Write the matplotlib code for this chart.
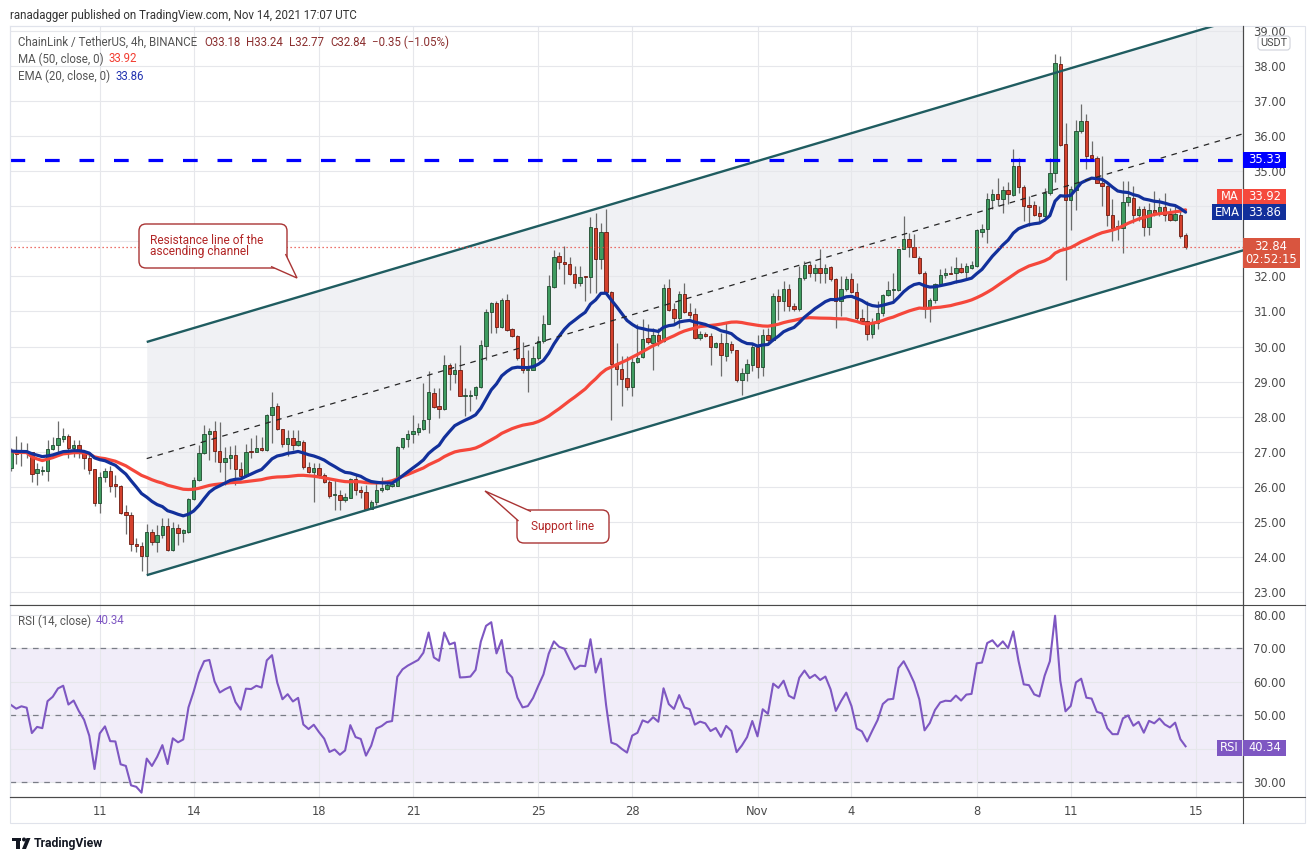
import matplotlib
matplotlib.use("Agg")
import matplotlib.pyplot as plt
import numpy as np
import pandas as pd
from matplotlib.patches import Rectangle, FancyBboxPatch, Polygon, Circle
from matplotlib.transforms import Affine2D
from matplotlib.lines import Line2D

# ---------------- data ----------------
start_time = "2021-10-08 04:00"   # first 4h candle shown

opens = [
    26.53, 27.03, 26.95, 27.00, 26.98, 26.40, 26.45, 26.46, 27.08, 27.18,
    27.37, 27.46, 27.11, 27.18, 27.00, 26.83, 26.50, 25.55, 26.29, 26.46,
    26.07, 26.03, 25.27, 25.20, 24.38, 24.32, 24.03, 24.72, 24.43, 24.63,
    24.89, 24.20, 24.83, 24.69, 24.71, 25.65, 26.20, 26.95, 27.52, 27.58,
    27.03, 26.71, 26.81, 26.92, 26.52, 26.31, 27.01, 27.00, 27.10, 27.05,
    28.05, 28.31, 27.64, 27.21, 27.38, 27.19, 27.29, 26.57, 26.43, 26.55,
    26.33, 26.14, 25.76, 25.78, 25.62, 25.68, 26.21, 25.90, 25.85, 25.38,
    25.57, 25.90, 25.95, 26.03, 26.03, 27.14, 27.36, 27.50, 27.57, 27.65,
    27.93, 28.68, 28.30, 28.22, 29.46, 29.23, 29.32, 28.60, 28.58, 28.63,
    28.85, 30.01, 30.98, 31.25, 30.55, 31.34, 30.49, 30.30, 29.68, 29.32,
    29.34, 29.66, 30.15, 30.65, 31.70, 32.58, 32.42, 32.36, 32.08, 31.82,
    32.00, 31.99, 33.39, 32.49, 33.28, 31.55, 29.49, 29.36, 29.10, 28.85,
    29.55, 29.70, 30.25, 30.10, 30.34, 30.15, 31.68, 31.06, 30.82, 31.49,
    30.99, 30.93, 30.25, 30.37, 30.31, 29.99, 30.09, 29.72, 30.08, 29.90,
    29.06, 29.25, 29.47, 29.98, 29.42, 30.34, 30.20, 31.44, 31.30, 31.65,
    31.17, 31.06, 31.96, 32.32, 32.10, 32.25, 32.11, 32.27, 31.92, 31.30,
    31.63, 31.93, 31.56, 30.82, 30.72, 30.36, 30.66, 30.96, 31.46, 31.60,
    31.61, 32.77, 33.08, 32.84, 32.53, 32.11, 31.11, 31.34, 31.77, 32.03,
    32.11, 32.09, 32.25, 32.13, 32.25, 32.30, 33.27, 33.35, 34.18, 34.34,
    34.22, 34.46, 34.33, 35.14, 34.55, 34.03, 34.03, 33.81, 33.71, 34.38,
    34.95, 38.07, 35.78, 34.17, 34.47, 36.14, 36.43, 35.45, 35.38, 34.66,
    34.57, 33.74, 33.43, 33.38, 34.12, 34.24, 33.76, 33.93, 33.41, 33.90,
    33.79, 33.98, 33.78, 33.62, 33.76, 33.18,
]
highs = [
    27.10, 27.46, 27.29, 27.24, 27.00, 26.67, 26.60, 27.34, 27.43, 27.89,
    27.67, 27.50, 27.34, 27.33, 27.05, 26.91, 26.50, 26.43, 26.55, 26.58,
    26.34, 26.05, 25.48, 25.29, 24.53, 24.43, 24.93, 24.81, 24.91, 25.12,
    25.12, 25.00, 24.95, 24.81, 25.67, 26.29, 27.20, 27.77, 27.67, 27.88,
    27.86, 27.14, 27.17, 27.19, 26.71, 27.21, 27.38, 27.48, 27.43, 28.07,
    28.71, 28.38, 27.66, 27.62, 27.62, 27.62, 27.33, 26.71, 26.67, 26.67,
    26.38, 26.19, 26.19, 25.90, 25.81, 26.24, 26.33, 26.02, 26.05, 25.62,
    26.14, 26.29, 26.14, 26.14, 27.17, 27.40, 27.62, 28.05, 27.81, 28.96,
    29.30, 28.82, 28.82, 29.77, 29.53, 29.53, 30.03, 28.82, 28.77, 28.87,
    30.18, 31.06, 31.27, 31.30, 31.39, 31.50, 30.53, 30.34, 30.12, 29.91,
    30.01, 30.31, 30.89, 32.03, 32.75, 32.70, 32.87, 32.56, 32.30, 32.30,
    32.02, 33.68, 33.80, 33.53, 33.91, 31.57, 30.10, 29.72, 29.72, 29.72,
    30.63, 30.79, 30.63, 30.53, 30.53, 31.77, 31.93, 31.25, 31.58, 31.82,
    31.25, 31.10, 30.44, 30.41, 30.39, 30.12, 30.39, 30.68, 30.15, 29.91,
    29.39, 29.65, 30.08, 30.34, 30.49, 30.53, 31.53, 31.63, 31.87, 31.77,
    31.25, 32.30, 32.44, 32.44, 32.34, 32.77, 32.34, 32.30, 31.96, 32.01,
    32.01, 32.09, 31.82, 31.06, 31.30, 30.82, 31.30, 31.49, 31.87, 32.11,
    32.79, 33.73, 33.25, 33.20, 32.58, 32.15, 31.39, 31.82, 32.20, 32.25,
    32.30, 32.56, 32.39, 32.39, 32.44, 33.35, 33.49, 34.39, 34.49, 34.82,
    34.58, 34.68, 35.62, 35.38, 34.62, 34.28, 34.14, 34.00, 34.52, 35.38,
    38.33, 38.28, 36.38, 34.59, 36.47, 36.93, 36.62, 35.86, 35.43, 35.43,
    34.62, 34.21, 33.62, 34.71, 34.71, 34.57, 34.00, 34.00, 34.09, 34.43,
    34.24, 34.38, 33.95, 34.05, 33.90, 33.24,
]
lows = [
    26.45, 26.64, 26.60, 26.81, 26.15, 26.05, 26.34, 26.18, 27.05, 26.91,
    27.29, 26.81, 26.84, 26.81, 26.51, 26.37, 25.45, 25.26, 26.15, 25.86,
    25.72, 25.22, 24.65, 24.18, 24.13, 23.60, 23.51, 24.34, 24.15, 24.53,
    24.18, 24.17, 24.34, 24.43, 24.67, 25.62, 26.17, 26.93, 26.77, 26.70,
    26.43, 26.05, 26.52, 26.05, 26.24, 26.28, 26.81, 27.00, 27.03, 27.03,
    27.24, 27.62, 27.14, 26.88, 27.05, 27.17, 26.52, 26.38, 25.57, 26.24,
    26.10, 25.67, 25.33, 25.33, 25.57, 25.67, 25.78, 25.67, 25.35, 25.36,
    25.48, 25.86, 25.90, 26.00, 26.03, 27.09, 27.14, 27.24, 27.48, 27.63,
    27.53, 28.25, 27.96, 28.20, 28.77, 28.96, 28.58, 28.01, 28.15, 28.49,
    28.82, 29.63, 30.39, 30.39, 30.53, 30.44, 30.28, 29.63, 29.25, 28.70,
    29.32, 29.63, 30.10, 30.63, 31.68, 32.20, 31.77, 32.03, 31.68, 31.74,
    31.30, 31.53, 31.53, 32.20, 31.53, 27.91, 28.90, 28.30, 28.77, 28.58,
    29.53, 29.68, 30.06, 29.34, 30.01, 30.12, 31.01, 30.60, 30.53, 30.96,
    30.82, 30.22, 30.20, 30.28, 29.46, 29.96, 29.15, 29.58, 29.82, 28.98,
    28.63, 29.01, 29.30, 29.10, 29.15, 30.10, 30.15, 30.77, 31.01, 31.01,
    31.01, 31.01, 31.91, 31.99, 31.87, 31.82, 31.82, 31.87, 30.54, 30.87,
    31.58, 31.53, 30.77, 30.68, 30.20, 30.25, 30.51, 30.87, 31.44, 31.30,
    31.58, 32.77, 32.54, 32.54, 32.06, 30.82, 30.70, 31.25, 31.72, 31.96,
    32.06, 31.82, 32.11, 31.96, 32.20, 32.28, 33.11, 32.96, 33.92, 34.01,
    33.82, 34.06, 34.28, 34.38, 33.57, 33.43, 33.71, 33.52, 33.66, 34.33,
    34.68, 35.73, 31.90, 33.33, 33.90, 36.09, 35.05, 35.33, 34.65, 34.00,
    33.43, 33.00, 33.05, 32.66, 34.00, 33.52, 33.57, 33.14, 33.19, 33.71,
    33.71, 33.57, 33.57, 33.57, 33.09, 32.77,
]
closes = [
    27.02, 26.93, 26.99, 26.96, 26.37, 26.50, 26.47, 27.07, 27.18, 27.39,
    27.46, 27.11, 27.20, 27.00, 26.83, 26.49, 25.55, 26.29, 26.46, 26.03,
    26.02, 25.26, 25.20, 24.38, 24.31, 24.03, 24.72, 24.43, 24.63, 24.89,
    24.20, 24.83, 24.69, 24.76, 25.65, 26.20, 26.95, 27.52, 27.58, 27.02,
    26.71, 26.83, 26.92, 26.52, 26.31, 27.00, 26.99, 27.10, 27.06, 28.05,
    28.28, 27.65, 27.21, 27.38, 27.19, 27.30, 26.57, 26.43, 26.54, 26.33,
    26.14, 25.73, 25.78, 25.62, 25.70, 26.21, 25.90, 25.85, 25.38, 25.57,
    25.92, 25.97, 26.05, 26.07, 27.14, 27.38, 27.50, 27.59, 27.68, 27.91,
    28.70, 28.28, 28.22, 29.46, 29.23, 29.32, 28.60, 28.61, 28.63, 28.85,
    30.03, 30.99, 31.25, 30.55, 31.34, 30.47, 30.30, 29.66, 29.32, 29.37,
    29.67, 30.15, 30.65, 31.74, 32.56, 32.41, 32.36, 32.08, 31.82, 31.99,
    31.98, 33.42, 32.49, 33.28, 31.55, 29.49, 29.36, 29.08, 28.85, 29.56,
    29.68, 30.22, 30.12, 30.34, 30.15, 31.68, 31.03, 30.82, 31.49, 30.98,
    30.91, 30.25, 30.37, 30.30, 29.99, 30.09, 29.75, 30.09, 29.91, 29.06,
    29.25, 29.49, 29.98, 29.42, 30.34, 30.18, 31.44, 31.30, 31.63, 31.15,
    31.06, 31.96, 32.32, 32.10, 32.25, 32.11, 32.25, 31.92, 31.30, 31.63,
    31.93, 31.55, 30.82, 30.72, 30.36, 30.66, 30.96, 31.46, 31.61, 31.63,
    32.77, 33.08, 32.84, 32.56, 32.11, 31.11, 31.34, 31.77, 32.03, 32.09,
    32.08, 32.25, 32.13, 32.30, 32.32, 33.32, 33.35, 34.20, 34.34, 34.22,
    34.46, 34.34, 35.14, 34.55, 34.00, 33.98, 33.76, 33.71, 34.38, 34.95,
    38.09, 35.76, 34.17, 34.50, 36.14, 36.43, 35.43, 35.38, 34.66, 34.57,
    33.74, 33.38, 33.38, 34.12, 34.26, 33.76, 33.93, 33.41, 33.90, 33.79,
    33.98, 33.74, 33.62, 33.78, 33.14, 32.84,
]

day_tick_dates = ["2021-10-11", "2021-10-14", "2021-10-18", "2021-10-21", "2021-10-25",
                  "2021-10-28", "2021-11-01", "2021-11-04", "2021-11-08", "2021-11-11",
                  "2021-11-15"]
day_labels = ["11", "14", "18", "21", "25", "28", "Nov", "4", "8", "11", "15"]
price_ticks = list(range(23, 40))
price_ticks_hidden = [33, 34]      # covered by the price tags in the reference
rsi_ticks = [30, 40, 50, 60, 70, 80]
rsi_ticks_hidden = [40]

resistance_level = 35.33
last_close = 32.84
ma_last, ema_last, rsi_last = 33.92, 33.86, 40.34
countdown = "02:52:15"

channel_start = "2021-10-12 12:00"
channel_low0 = 23.48
channel_width = 6.65
channel_slope_per_candle = 0.0441

ma_len, ema_len, rsi_len = 50, 20, 14
rsi_seed_gain, rsi_seed_loss = 0.17, 0.15

header = "ranadagger published on TradingView.com, Nov 14, 2021 17:07 UTC"
symbol_text = "ChainLink / TetherUS, 4h, BINANCE"
ohlc_text = ["O33.18", "H33.24", "L32.77", "C32.84", "\u22120.35 (\u22121.05%)"]

# ---------------- figure ----------------
W, H = 1315, 860
plt.rcParams["font.family"] = ["DejaVu Sans"]
fig = plt.figure(figsize=(W / 100, H / 100), dpi=100)
fig.patch.set_facecolor("white")
tpx = Affine2D().scale(1.0 / W, -1.0 / H).translate(0, 1) + fig.transFigure
TXT = ["Roboto", "DejaVu Sans"]

L0, R0 = 10, 1243
TOP, MID, BOT = 26, 605, 797
ax = fig.add_axes([L0 / W, 1 - MID / H, (R0 - L0) / W, (MID - TOP) / H])
axr = fig.add_axes([L0 / W, 1 - BOT / H, (R0 - L0) / W, (BOT - MID) / H])

O = np.array(opens); Hh = np.array(highs); Lw = np.array(lows); C = np.array(closes)
n = len(C)
t0 = pd.Timestamp(start_time)
step = pd.Timedelta("4h")
pos = np.arange(n)
def tpos(d):
    return (pd.Timestamp(d) - t0) / step
xticks = [tpos(d) for d in day_tick_dates]
xlim = (-0.19, 236.0)

grid_c = "#e6e7eb"
for a in (ax, axr):
    a.set_xlim(*xlim)
    a.set_facecolor("white")
    a.set_xticks(xticks)
    a.set_axisbelow(True)
    a.grid(True, color=grid_c, lw=0.8)
    a.yaxis.tick_right()
    a.tick_params(axis="y", length=0, pad=7.2, labelsize=8.3, labelcolor="#4a4a4a")
    a.tick_params(axis="x", length=0)
    for s in ("left", "top"):
        a.spines[s].set_color("#e0e3eb")
    for s in ("right", "bottom"):
        a.spines[s].set_color("#4a4a4a")
    for s in a.spines.values():
        s.set_linewidth(0.8)

ax.set_ylim(22.63, 39.14)
ax.set_yticks(price_ticks)
ax.set_yticklabels(["" if v in price_ticks_hidden else f"{v:.2f}" for v in price_ticks])
ax.set_xticklabels([])

axr.set_ylim(25.6, 83.0)
axr.set_yticks(rsi_ticks)
axr.set_yticklabels(["" if v in rsi_ticks_hidden else f"{v:.2f}" for v in rsi_ticks])
axr.set_xticklabels(day_labels)
axr.tick_params(axis="x", pad=6, labelsize=8.3, labelcolor="#4a4a4a")

# ---------------- channel drawing ----------------
cs = tpos(channel_start)
xs = np.array([cs, xlim[1] + 1])
lower = channel_low0 + channel_slope_per_candle * (xs - cs)
upper = lower + channel_width
ax.fill_between(xs, lower, upper, color="#f0f1f4", lw=0, zorder=0.2)
ax.plot(xs, lower, color="#1f5c60", lw=1.7, zorder=6, solid_capstyle="butt")
ax.plot(xs, upper, color="#1f5c60", lw=1.7, zorder=6, solid_capstyle="butt")
ax.plot(xs, lower + channel_width / 2, color="#262626", lw=0.9, ls=(0, (4.5, 4.5)), zorder=6)

# horizontal levels
ax.axhline(resistance_level, color="#0000ff", lw=2.3, ls=(0, (4.6, 6.2)), zorder=6)
ax.axhline(last_close, color="#e8453c", lw=0.9, ls=(0, (1, 2.2)), zorder=6)

# ---------------- candles ----------------
up = C >= O
body_lo = np.minimum(O, C)
body_h = np.maximum(np.abs(C - O), 0.03)
ax.vlines(pos, Lw, Hh, colors="#6c6c6c", lw=0.9, zorder=3)
ax.bar(pos[up], body_h[up], 0.64, bottom=body_lo[up], color="#3f9c60",
       edgecolor="#1f4a2f", linewidth=0.6, zorder=4)
ax.bar(pos[~up], body_h[~up], 0.64, bottom=body_lo[~up], color="#d4412d",
       edgecolor="#6b1a10", linewidth=0.6, zorder=4)

# ---------------- indicators ----------------
cs_ser = pd.Series(C)
ma = cs_ser.rolling(ma_len, min_periods=1).mean()
ema = cs_ser.ewm(span=ema_len, adjust=False).mean()
ax.plot(pos, ma, color="#f5473b", lw=2.3, zorder=5, solid_capstyle="round")
ax.plot(pos, ema, color="#12309b", lw=2.3, zorder=5, solid_capstyle="round")

g, l = rsi_seed_gain, rsi_seed_loss
rsi = []
for i in range(n):
    if i > 0:
        d = C[i] - C[i - 1]
        g = (g * (rsi_len - 1) + max(d, 0)) / rsi_len
        l = (l * (rsi_len - 1) + max(-d, 0)) / rsi_len
    rsi.append(100 * g / (g + l))
axr.axhspan(30, 70, color="#f1edf9", lw=0, zorder=0.2)
for lv in (30, 50, 70):
    axr.axhline(lv, color="#7a7d87", lw=0.9, ls=(0, (4.5, 4.5)), zorder=1)
axr.plot(pos, rsi, color="#7e57c2", lw=1.5, zorder=5)

# ---------------- frame lines ----------------
fig.add_artist(Rectangle((L0, TOP), 1305 - L0, 823 - TOP, transform=tpx, fill=False,
                         edgecolor="#e0e3eb", lw=0.8))
for (xa, ya, xb, yb) in [(R0, TOP, R0, 823), (L0, MID, 1305, MID), (L0, BOT, 1305, BOT)]:
    fig.add_artist(Line2D([xa, xb], [ya, yb], transform=tpx, color="#4a4a4a", lw=0.8))

# ---------------- texts ----------------
renderer = fig.canvas.get_renderer()
def run(x, y, pieces, fs=8.3):
    cx = x
    for s, col, gap in pieces:
        t = fig.text(cx, y, s, transform=tpx, color=col, fontsize=fs, family=TXT,
                     ha="left", va="center")
        cx += t.get_window_extent(renderer=renderer).width + gap

fig.text(10, 15, header, transform=tpx, color="#333333", fontsize=8.3, family=TXT,
         ha="left", va="center")
ohlc_col = "#8b2f2f"
run(18, 42, [(symbol_text, "#555555", 7)] + [(s, ohlc_col, 6) for s in ohlc_text])
run(18, 59, [("MA (50, close, 0)", "#555555", 5), (f"{ma_last:.2f}", "#f23c30", 0)])
run(18, 76, [("EMA (20, close, 0)", "#555555", 5), (f"{ema_last:.2f}", "#2233b0", 0)])
run(18, 621, [("RSI (14, close)", "#555555", 5), (f"{rsi_last:.2f}", "#7e57c2", 0)])

# ---------------- right-hand price boxes ----------------
def py(a, v):
    return H - a.transData.transform((0, v))[1]

def box(x0, x1, yc, h, fc, txt, tc="white", fs=8.3):
    fig.add_artist(Rectangle((x0, yc - h / 2), x1 - x0, h, transform=tpx,
                             facecolor=fc, edgecolor="none", zorder=20))
    if txt:
        fig.text((x0 + x1) / 2, yc, txt, transform=tpx, ha="center", va="center",
                 color=tc, fontsize=fs, zorder=21)

box(1243, 1286, py(ax, resistance_level), 16, "#0000ff", f"{resistance_level:.2f}")
y_ema = py(ax, ema_last) + 1
y_ma = y_ema - 16
box(1217, 1242, y_ma, 15, "#f5493d", "MA")
box(1243, 1286, y_ma, 15, "#f5493d", f"{ma_last:.2f}")
box(1212, 1242, y_ema, 16, "#12309b", "EMA")
box(1243, 1286, y_ema, 16, "#12309b", f"{ema_last:.2f}")
yl = py(ax, last_close)
box(1243, 1300, yl + 6, 30, "#d9553f", "")
fig.text(1271, yl, f"{last_close:.2f}", transform=tpx, ha="center", va="center",
         color="white", fontsize=8.3, zorder=22)
fig.text(1271, yl + 13, countdown, transform=tpx, ha="center", va="center",
         color="white", fontsize=8.3, zorder=22)
yr = py(axr, rsi_last)
box(1217, 1242, yr, 16, "#7e57c2", "RSI")
box(1243, 1286, yr, 16, "#7e57c2", f"{rsi_last:.2f}")
# USDT tag
fig.add_artist(FancyBboxPatch((1258, 36), 32, 14, boxstyle="round,pad=0,rounding_size=3",
                              transform=tpx, facecolor="white", edgecolor="#cfd2da",
                              lw=0.8, zorder=20))
fig.text(1274, 43, "USDT", transform=tpx, ha="center", va="center", color="#4a4a4a",
         fontsize=7.8, family=TXT, zorder=21)

# ---------------- callouts ----------------
cc_edge, cc_text = "#a93434", "#b22626"
def callout(x0, y0, x1, y1, tail, lines, ys, tx, ha="left"):
    fig.add_artist(FancyBboxPatch((x0, y0), x1 - x0, y1 - y0,
                                  boxstyle="round,pad=0,rounding_size=7", transform=tpx,
                                  facecolor="white", edgecolor=cc_edge, lw=1.0, zorder=15))
    fig.add_artist(Polygon(tail, closed=False, transform=tpx, facecolor="white",
                           edgecolor=cc_edge, lw=1.0, zorder=16))
    for s, yy in zip(lines, ys):
        fig.text(tx, yy, s, transform=tpx, ha=ha, va="center", color=cc_text,
                 fontsize=8.6, family=TXT, zorder=17)

callout(139, 224, 287, 268, [(271, 266.5), (297, 278), (285.5, 254)],
        ["Resistance line of the", "ascending channel"], [240, 252], 150)
callout(517, 510, 609, 543, [(531, 511.5), (485, 491), (518.5, 521)],
        ["Support line"], [526.5], 563, ha="center")

# ---------------- TradingView logo ----------------
logo_c = "#131722"
fig.add_artist(Rectangle((12, 837.5), 9, 3.5, transform=tpx, facecolor=logo_c, edgecolor="none"))
fig.add_artist(Rectangle((16, 837.5), 4, 11.5, transform=tpx, facecolor=logo_c, edgecolor="none"))
fig.add_artist(Circle((24, 839.5), 2.0, transform=tpx, facecolor=logo_c, edgecolor="none"))
fig.add_artist(Polygon([(22, 849), (26.5, 838), (30.5, 838), (26, 849)], transform=tpx,
                       facecolor=logo_c, edgecolor="none"))
fig.text(34, 843, "TradingView", transform=tpx, ha="left", va="center", color=logo_c,
         fontsize=8.8, family=TXT, fontweight="bold")

fig.savefig("out.png", dpi=100, facecolor="white")
